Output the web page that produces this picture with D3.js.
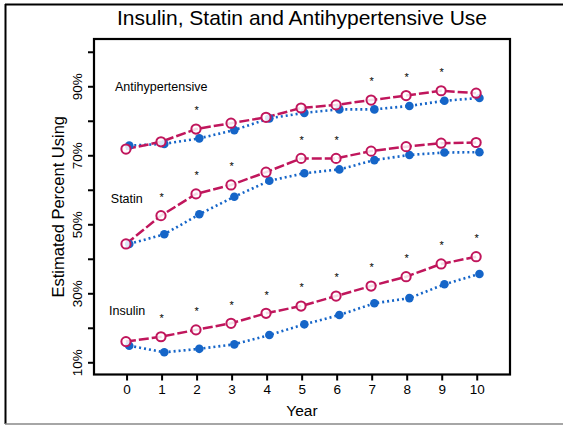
<!DOCTYPE html>
<html>
<head>
<meta charset="utf-8">
<script src="https://cdn.jsdelivr.net/npm/d3@7"></script>
<style>
  body { margin: 0; background: #fff; }
  text { font-family: "Liberation Sans", Arial, sans-serif; fill: #000; }
</style>
</head>
<body>
<div id="chart"></div>
<script>
var svgWidth = 563;
var svgHeight = 426;

// years on the x axis
var years = [0, 1, 2, 3, 4, 5, 6, 7, 8, 9, 10];

// estimated percent using, open pink circles
var antihypPink = [71.8, 73.9, 77.6, 79.3, 81.0, 83.7, 84.6, 86.0, 87.3, 88.7, 88.0];
var statinPink  = [44.3, 52.5, 58.8, 61.4, 65.1, 69.1, 69.1, 71.2, 72.5, 73.5, 73.7];
var insulinPink = [16.0, 17.4, 19.4, 21.3, 24.2, 26.3, 29.2, 32.1, 34.8, 38.5, 40.6];

// estimated percent using, filled blue circles
var antihypBlue = [72.8, 73.3, 74.9, 77.3, 80.7, 82.3, 83.3, 83.3, 84.3, 85.8, 86.6];
var statinBlue  = [44.3, 47.1, 52.9, 58.0, 62.6, 64.8, 65.9, 68.6, 70.1, 70.8, 70.9];
var insulinBlue = [14.8, 12.9, 13.9, 15.2, 17.9, 21.0, 23.7, 27.1, 28.6, 32.6, 35.6];

// years marked with an asterisk
var antihypStars = [2, 7, 8, 9];
var statinStars  = [1, 2, 3, 5, 6];
var insulinStars = [1, 2, 3, 4, 5, 6, 7, 8, 9, 10];

var yTicks = [10, 20, 30, 40, 50, 60, 70, 80, 90, 100];
var yTickLabels = ["10%", "", "30%", "", "50%", "", "70%", "", "90%", ""];

var pinkColor = "#c0165c";
var blueColor = "#1565c8";

// plot box
var box = { left: 94, right: 510, top: 39, bottom: 374.5 };

var svg = d3.select("#chart")
  .append("svg")
  .attr("width", svgWidth)
  .attr("height", svgHeight);

// outer frame
svg.append("line").attr("x1", 5).attr("x2", svgWidth).attr("y1", 4.5).attr("y2", 4.5)
  .attr("stroke", "#000").attr("stroke-width", 2);
svg.append("line").attr("x1", 5.5).attr("x2", 5.5).attr("y1", 4).attr("y2", 424)
  .attr("stroke", "#000").attr("stroke-width", 2);
svg.append("line").attr("x1", 5).attr("x2", svgWidth).attr("y1", 424).attr("y2", 424)
  .attr("stroke", "#888").attr("stroke-width", 1.5);

var xScale = d3.scaleLinear()
  .domain([-0.93, 10.95])
  .range([box.left, box.right]);

var yScale = d3.scaleLinear()
  .domain([6.46, 103.7])
  .range([box.bottom, box.top]);

// x axis
var xAxis = d3.axisBottom(xScale).tickValues(years).tickSize(6).tickPadding(4);
var gx = svg.append("g")
  .attr("transform", `translate(0, ${box.bottom})`)
  .call(xAxis);
gx.select(".domain").remove();
gx.selectAll("line").attr("stroke", "#000").attr("stroke-width", 2);
gx.selectAll("text").attr("font-size", "13.5px").attr("fill", "#000")
  .attr("font-family", "Liberation Sans, Arial, sans-serif");

// y axis, labels rotated like R
var yAxis = d3.axisLeft(yScale).tickValues(yTicks)
  .tickFormat((d, i) => yTickLabels[i]).tickSize(6);
var gy = svg.append("g")
  .attr("transform", `translate(${box.left}, 0)`)
  .call(yAxis);
gy.select(".domain").remove();
gy.selectAll("line").attr("stroke", "#000").attr("stroke-width", 2);
gy.selectAll(".tick text")
  .attr("font-size", "13.5px").attr("fill", "#000")
  .attr("font-family", "Liberation Sans, Arial, sans-serif")
  .attr("x", 0).attr("y", 0).attr("dy", null)
  .attr("text-anchor", "middle")
  .attr("transform", "rotate(-90) translate(0, -12)");

// plot box
svg.append("rect")
  .attr("x", box.left).attr("y", box.top)
  .attr("width", box.right - box.left).attr("height", box.bottom - box.top)
  .attr("fill", "none").attr("stroke", "#000").attr("stroke-width", 2.2);

// series
var groups = [
  { label: "Antihypertensive", pink: antihypPink, blue: antihypBlue, stars: antihypStars, lx: -0.33, ly: 88.6 },
  { label: "Statin", pink: statinPink, blue: statinBlue, stars: statinStars, lx: -0.45, ly: 56.2 },
  { label: "Insulin", pink: insulinPink, blue: insulinBlue, stars: insulinStars, lx: -0.5, ly: 23.7 }
];

var pinkShift = -0.6;
var blueShift = 2.7;

groups.forEach(function(g) {
  var bluePts = years.map((y, i) => [xScale(y) + blueShift, yScale(g.blue[i])]);
  var pinkPts = years.map((y, i) => [xScale(y) + pinkShift, yScale(g.pink[i])]);

  svg.append("path")
    .attr("d", d3.line()(bluePts))
    .attr("fill", "none")
    .attr("stroke", blueColor)
    .attr("stroke-width", 2.6)
    .attr("stroke-dasharray", "2,3");

  svg.append("path")
    .attr("d", d3.line()(pinkPts))
    .attr("fill", "none")
    .attr("stroke", pinkColor)
    .attr("stroke-width", 2.5)
    .attr("stroke-dasharray", "10,3");

  svg.append("g").selectAll("circle")
    .data(bluePts)
    .enter()
    .append("circle")
    .attr("cx", d => d[0])
    .attr("cy", d => d[1])
    .attr("r", 4.3)
    .attr("fill", blueColor);

  svg.append("g").selectAll("circle")
    .data(pinkPts)
    .enter()
    .append("circle")
    .attr("cx", d => d[0])
    .attr("cy", d => d[1])
    .attr("r", 4.6)
    .attr("fill", "#fff")
    .attr("fill-opacity", 0.85)
    .attr("stroke", pinkColor)
    .attr("stroke-width", 2);

  // asterisks above the pink series
  svg.append("g").selectAll("text")
    .data(g.stars)
    .enter()
    .append("text")
    .attr("x", d => xScale(d))
    .attr("y", d => yScale(g.pink[d] + 6) + 6)
    .attr("text-anchor", "middle")
    .attr("font-size", "11px")
    .text("*");

  svg.append("text")
    .attr("x", xScale(g.lx))
    .attr("y", yScale(g.ly))
    .attr("font-size", "12.5px")
    .text(g.label);
});

// title
svg.append("text")
  .attr("x", (box.left + box.right) / 2)
  .attr("y", 25)
  .attr("text-anchor", "middle")
  .attr("font-size", "21px")
  .text("Insulin, Statin and Antihypertensive Use");

// x axis label
svg.append("text")
  .attr("x", (box.left + box.right) / 2)
  .attr("y", 416)
  .attr("text-anchor", "middle")
  .attr("font-size", "15.5px")
  .text("Year");

// y axis label
svg.append("text")
  .attr("transform", "rotate(-90)")
  .attr("x", -(box.top + box.bottom) / 2)
  .attr("y", 64)
  .attr("text-anchor", "middle")
  .attr("font-size", "16.5px")
  .text("Estimated Percent Using");
</script>
</body>
</html>
